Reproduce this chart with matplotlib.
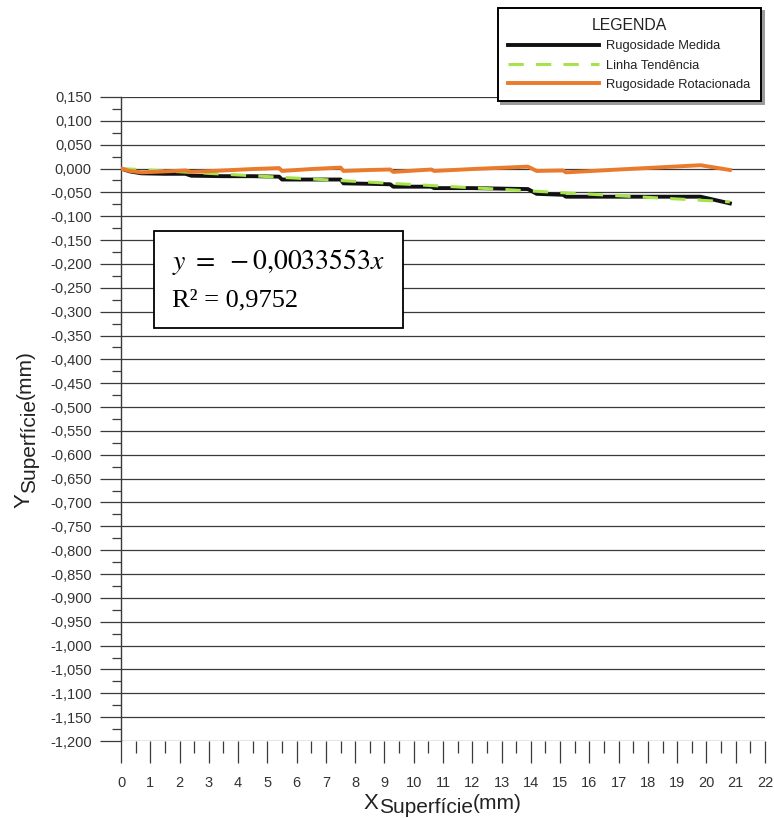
import matplotlib
matplotlib.use('Agg')
import matplotlib.pyplot as plt
from matplotlib.ticker import MultipleLocator, FuncFormatter
from matplotlib.lines import Line2D
from matplotlib.patches import Rectangle

plt.rcParams['font.family'] = ['Liberation Sans', 'DejaVu Sans']
plt.rcParams['mathtext.fontset'] = 'stix'

x_med = [0.0, 0.3, 0.7, 1.5, 2.2, 2.4, 3.5, 4.5, 5.4, 5.5, 6.5, 7.5, 7.6, 8.5,
         9.2, 9.3, 10.6, 10.7, 12.0, 13.9, 14.2, 15.1, 15.2, 17.0, 19.8, 20.8]
y_med = [0.000, -0.006, -0.010, -0.011, -0.011, -0.015, -0.016, -0.016, -0.017,
         -0.023, -0.023, -0.023, -0.031, -0.032, -0.033, -0.038, -0.038, -0.041,
         -0.041, -0.043, -0.053, -0.055, -0.059, -0.059, -0.059, -0.073]
# rotated roughness
y_rot = [0.000, -0.005, -0.008, -0.006, -0.004, -0.007, -0.004, -0.001, 0.001,
         -0.005, -0.001, 0.002, -0.005, -0.003, -0.002, -0.007, -0.002, -0.005,
         -0.001, 0.004, -0.005, -0.004, -0.008, -0.002, 0.007, -0.003]
# trend line end points
x_tend = [0.0, 20.8]
y_tend = [0.0, -0.0698]

eq_text = r'$y\ =\ -0{,}0033553x$'
r2_text = 'R² = 0,9752'

W, H = 774, 818
fig = plt.figure(figsize=(W / 100, H / 100), dpi=100)
ax = fig.add_axes([121 / W, 77 / H, 644 / W, 644 / H])
rend = fig.canvas.get_renderer()

grid_c = '#3a3a3a'
ax.plot(x_med, y_med, color='#111111', lw=2.8, zorder=3, solid_joinstyle='round')
ax.plot(x_tend, y_tend, color='#a6e34a', lw=2.2, ls=(0, (5, 4)), zorder=4)
ax.plot(x_med, y_rot, color='#ea7a2c', lw=2.8, zorder=5, solid_joinstyle='round')

ax.set_xlim(0, 22)
ax.set_ylim(-1.2, 0.15)
ax.xaxis.set_major_locator(MultipleLocator(1))
ax.xaxis.set_minor_locator(MultipleLocator(0.5))
ax.yaxis.set_major_locator(MultipleLocator(0.05))
ax.yaxis.set_minor_locator(MultipleLocator(0.025))
ax.yaxis.set_major_formatter(FuncFormatter(lambda v, p: f'{v:.3f}'.replace('.', ',').replace('-0,000', '0,000')))

ax.grid(axis='y', which='major', color=grid_c, lw=0.9, zorder=1)
for s in ['top', 'right', 'bottom']:
    ax.spines[s].set_visible(False)
ax.spines['left'].set_color(grid_c)
ax.spines['left'].set_linewidth(1.0)

ax.tick_params(axis='y', which='major', length=15, width=0.9, color=grid_c, pad=6,
               labelsize=10.5, labelcolor='#333333')
ax.tick_params(axis='y', which='minor', length=6.5, width=0.9, color=grid_c)
ax.tick_params(axis='x', which='major', length=16, width=0.9, color=grid_c, pad=9,
               labelsize=10.5, labelcolor='#333333')
ax.tick_params(axis='x', which='minor', length=8.5, width=0.9, color=grid_c)

# x label: X + lowered "Superfície" + (mm), pieces placed on one baseline
lab_c = '#222222'
x0, yb = 364, 809
t = fig.text(x0 / W, 1 - yb / H, 'X', fontsize=16, color=lab_c, va='baseline')
x0 += t.get_window_extent(rend).width
t = fig.text(x0 / W, 1 - (yb + 4) / H, 'Superfície', fontsize=15, color=lab_c, va='baseline')
x0 += t.get_window_extent(rend).width
fig.text(x0 / W, 1 - yb / H, '(mm)', fontsize=15, color=lab_c, va='baseline')

# y label, rotated, built bottom to top (right edge of each piece = baseline side)
xr, y0 = 35, 508
t = fig.text(xr / W, 1 - y0 / H, 'Y', fontsize=16, color=lab_c, rotation=90,
             ha='right', va='bottom')
y0 -= t.get_window_extent(rend).height
t = fig.text((xr + 4) / W, 1 - y0 / H, 'Superfície', fontsize=15, color=lab_c, rotation=90,
             ha='right', va='bottom')
y0 -= t.get_window_extent(rend).height
fig.text(xr / W, 1 - y0 / H, '(mm)', fontsize=15, color=lab_c, rotation=90,
         ha='right', va='bottom')

# equation box
fig.patches.append(Rectangle((154 / W, 1 - 328 / H), 249 / W, 97 / H, transform=fig.transFigure,
                             facecolor='white', edgecolor='black', lw=1.3, zorder=10))
fig.text(172 / W, 1 - 262 / H, eq_text, fontsize=20, va='center', zorder=11)
fig.text(172 / W, 1 - 300 / H, r2_text, fontsize=19, va='center', zorder=11,
         family='Liberation Serif')

# legend
handles = [Line2D([], [], color='#111111', lw=2.8),
           Line2D([], [], color='#a6e34a', lw=2.2, ls=(0, (5, 4))),
           Line2D([], [], color='#ea7a2c', lw=2.8)]
labels = ['Rugosidade Medida', 'Linha Tendência', 'Rugosidade Rotacionada']
leg = fig.legend(handles, labels, title='LEGENDA', loc='upper left',
                 bbox_to_anchor=(498 / W, 1 - 8 / H), fontsize=9.3, title_fontsize=11.4,
                 handlelength=7.0, handletextpad=0.6, labelspacing=0.55, borderpad=0.8,
                 borderaxespad=0, fancybox=False, framealpha=1, edgecolor='black',
                 shadow={'color': '#9a9a9a', 'alpha': 1.0})
leg.get_frame().set_linewidth(1.4)
for tx in leg.get_texts():
    tx.set_color('#222222')
leg.get_title().set_color('#222222')

fig.savefig('out.png', dpi=100)
